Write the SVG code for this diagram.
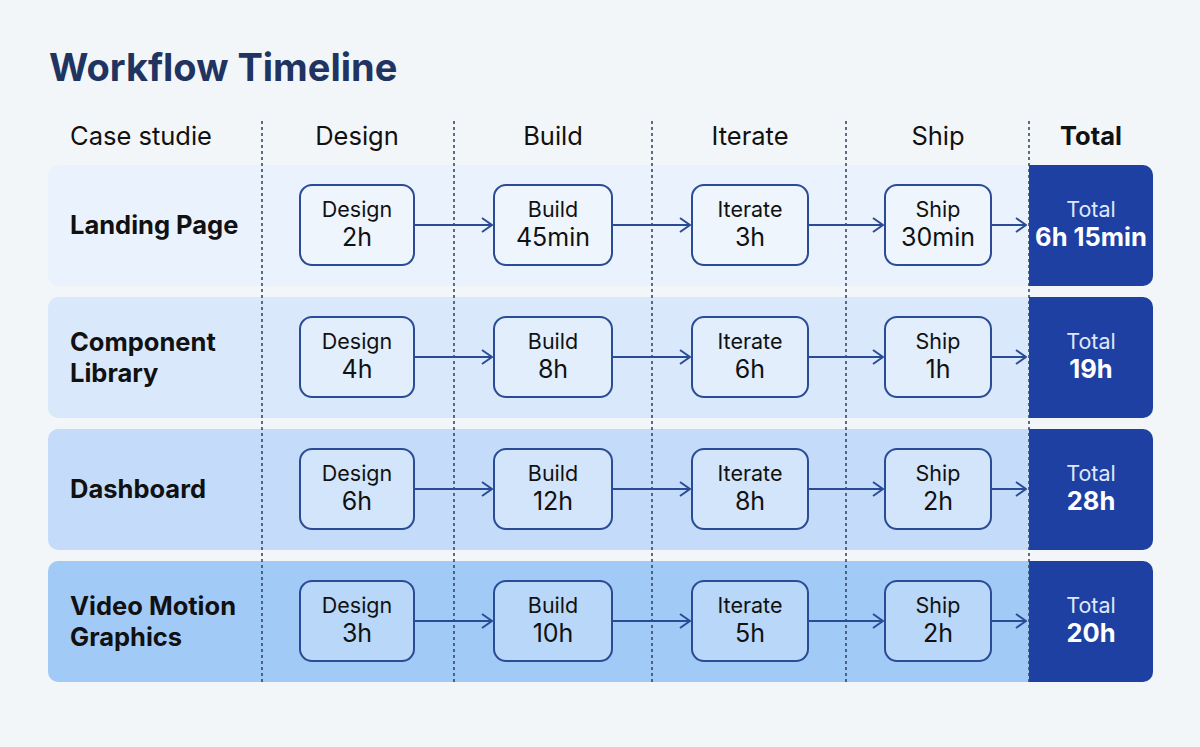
<svg xmlns="http://www.w3.org/2000/svg" width="1200" height="747" viewBox="0 0 1200 747">
<defs>
<style>
.t{font-family:Inter,"Liberation Sans",sans-serif;}
.title{font-size:38px;font-weight:700;fill:#1f3460;}
.hdr{font-size:25.5px;fill:#111;text-anchor:middle;}
.lbl{font-size:25.5px;font-weight:700;fill:#111;}
.n1{font-size:21.5px;fill:#111;text-anchor:middle;}
.n2{font-size:25px;fill:#111;text-anchor:middle;}
.box{fill:#ffffff;fill-opacity:0.25;stroke:#2a4c97;stroke-width:2;}
.tot1{font-size:21.5px;fill:#dfe8fb;text-anchor:middle;}
.tot2{font-size:25.5px;font-weight:700;fill:#fff;text-anchor:middle;}
.div{stroke:#3a4866;stroke-width:1.6;stroke-dasharray:3 3;}
.arr{stroke:#2a4c97;stroke-width:2;fill:none;}
</style>
<marker id="ah" viewBox="0 0 12 16" refX="11" refY="8" markerWidth="12" markerHeight="16" markerUnits="userSpaceOnUse" orient="auto">
<path d="M1,1 L11,8 L1,15" fill="none" stroke="#2a4c97" stroke-width="2"/>
</marker>
</defs>
<rect width="1200" height="747" fill="#f3f6f9"/>
<text class="t title" x="49" y="81">Workflow Timeline</text>

<g id="header">
<text class="t" x="70" y="145" font-size="25.5" fill="#111">Case studie</text>
<text class="t hdr" x="357" y="145">Design</text>
<text class="t hdr" x="553" y="145">Build</text>
<text class="t hdr" x="750" y="145">Iterate</text>
<text class="t hdr" x="938" y="145">Ship</text>
<text class="t hdr" x="1091" y="145" font-weight="700">Total</text>
</g>

<g id="row-backgrounds">
<path d="M58,165 H1029 V286 H58 A10,10 0 0 1 48,276 V175 A10,10 0 0 1 58,165 Z" fill="#eaf2fd"/>
<path d="M58,297 H1029 V418 H58 A10,10 0 0 1 48,408 V307 A10,10 0 0 1 58,297 Z" fill="#d9e8fb"/>
<path d="M58,429 H1029 V550 H58 A10,10 0 0 1 48,540 V439 A10,10 0 0 1 58,429 Z" fill="#c4dcfa"/>
<path d="M58,561 H1029 V682 H58 A10,10 0 0 1 48,672 V571 A10,10 0 0 1 58,561 Z" fill="#a2caf6"/>
</g>

<g id="totals">
<path d="M1029,165 H1143 A10,10 0 0 1 1153,175 V276 A10,10 0 0 1 1143,286 H1029 Z" fill="#1e40a2"/>
<path d="M1029,297 H1143 A10,10 0 0 1 1153,307 V408 A10,10 0 0 1 1143,418 H1029 Z" fill="#1e40a2"/>
<path d="M1029,429 H1143 A10,10 0 0 1 1153,439 V540 A10,10 0 0 1 1143,550 H1029 Z" fill="#1e40a2"/>
<path d="M1029,561 H1143 A10,10 0 0 1 1153,571 V672 A10,10 0 0 1 1143,682 H1029 Z" fill="#1e40a2"/>
<text class="t tot1" x="1091" y="217">Total</text><text class="t tot2" x="1091" y="246">6h 15min</text>
<text class="t tot1" x="1091" y="349">Total</text><text class="t tot2" x="1091" y="378">19h</text>
<text class="t tot1" x="1091" y="481">Total</text><text class="t tot2" x="1091" y="510">28h</text>
<text class="t tot1" x="1091" y="613">Total</text><text class="t tot2" x="1091" y="642">20h</text>
</g>

<g id="dividers">
<line class="div" x1="262" y1="121" x2="262" y2="682"/>
<line class="div" x1="454" y1="121" x2="454" y2="682"/>
<line class="div" x1="652" y1="121" x2="652" y2="682"/>
<line class="div" x1="846" y1="121" x2="846" y2="682"/>
<line class="div" x1="1029" y1="121" x2="1029" y2="682"/>
</g>

<g id="row-labels">
<text class="t lbl" x="70" y="234">Landing Page</text>
<text class="t lbl" x="70" y="351">Component</text>
<text class="t lbl" x="70" y="382">Library</text>
<text class="t lbl" x="70" y="498">Dashboard</text>
<text class="t lbl" x="70" y="615">Video Motion</text>
<text class="t lbl" x="70" y="646">Graphics</text>
</g>

<g id="connectors">
<line class="arr" x1="414" y1="225" x2="492" y2="225" marker-end="url(#ah)"/>
<line class="arr" x1="612" y1="225" x2="690" y2="225" marker-end="url(#ah)"/>
<line class="arr" x1="808" y1="225" x2="883" y2="225" marker-end="url(#ah)"/>
<line class="arr" x1="991" y1="225" x2="1026" y2="225" marker-end="url(#ah)"/>
<line class="arr" x1="414" y1="357" x2="492" y2="357" marker-end="url(#ah)"/>
<line class="arr" x1="612" y1="357" x2="690" y2="357" marker-end="url(#ah)"/>
<line class="arr" x1="808" y1="357" x2="883" y2="357" marker-end="url(#ah)"/>
<line class="arr" x1="991" y1="357" x2="1026" y2="357" marker-end="url(#ah)"/>
<line class="arr" x1="414" y1="489" x2="492" y2="489" marker-end="url(#ah)"/>
<line class="arr" x1="612" y1="489" x2="690" y2="489" marker-end="url(#ah)"/>
<line class="arr" x1="808" y1="489" x2="883" y2="489" marker-end="url(#ah)"/>
<line class="arr" x1="991" y1="489" x2="1026" y2="489" marker-end="url(#ah)"/>
<line class="arr" x1="414" y1="621" x2="492" y2="621" marker-end="url(#ah)"/>
<line class="arr" x1="612" y1="621" x2="690" y2="621" marker-end="url(#ah)"/>
<line class="arr" x1="808" y1="621" x2="883" y2="621" marker-end="url(#ah)"/>
<line class="arr" x1="991" y1="621" x2="1026" y2="621" marker-end="url(#ah)"/>
</g>

<g id="row1-nodes">
<g id="lp-design"><rect class="box" x="300" y="185" width="114" height="80" rx="12"/><text class="t n1" x="357" y="217">Design</text><text class="t n2" x="357" y="246">2h</text></g>
<g id="lp-build"><rect class="box" x="494" y="185" width="118" height="80" rx="12"/><text class="t n1" x="553" y="217">Build</text><text class="t n2" x="553" y="246">45min</text></g>
<g id="lp-iterate"><rect class="box" x="692" y="185" width="116" height="80" rx="12"/><text class="t n1" x="750" y="217">Iterate</text><text class="t n2" x="750" y="246">3h</text></g>
<g id="lp-ship"><rect class="box" x="885" y="185" width="106" height="80" rx="12"/><text class="t n1" x="938" y="217">Ship</text><text class="t n2" x="938" y="246">30min</text></g>
</g>
<g id="row2-nodes">
<g id="cl-design"><rect class="box" x="300" y="317" width="114" height="80" rx="12"/><text class="t n1" x="357" y="349">Design</text><text class="t n2" x="357" y="378">4h</text></g>
<g id="cl-build"><rect class="box" x="494" y="317" width="118" height="80" rx="12"/><text class="t n1" x="553" y="349">Build</text><text class="t n2" x="553" y="378">8h</text></g>
<g id="cl-iterate"><rect class="box" x="692" y="317" width="116" height="80" rx="12"/><text class="t n1" x="750" y="349">Iterate</text><text class="t n2" x="750" y="378">6h</text></g>
<g id="cl-ship"><rect class="box" x="885" y="317" width="106" height="80" rx="12"/><text class="t n1" x="938" y="349">Ship</text><text class="t n2" x="938" y="378">1h</text></g>
</g>
<g id="row3-nodes">
<g id="db-design"><rect class="box" x="300" y="449" width="114" height="80" rx="12"/><text class="t n1" x="357" y="481">Design</text><text class="t n2" x="357" y="510">6h</text></g>
<g id="db-build"><rect class="box" x="494" y="449" width="118" height="80" rx="12"/><text class="t n1" x="553" y="481">Build</text><text class="t n2" x="553" y="510">12h</text></g>
<g id="db-iterate"><rect class="box" x="692" y="449" width="116" height="80" rx="12"/><text class="t n1" x="750" y="481">Iterate</text><text class="t n2" x="750" y="510">8h</text></g>
<g id="db-ship"><rect class="box" x="885" y="449" width="106" height="80" rx="12"/><text class="t n1" x="938" y="481">Ship</text><text class="t n2" x="938" y="510">2h</text></g>
</g>
<g id="row4-nodes">
<g id="vm-design"><rect class="box" x="300" y="581" width="114" height="80" rx="12"/><text class="t n1" x="357" y="613">Design</text><text class="t n2" x="357" y="642">3h</text></g>
<g id="vm-build"><rect class="box" x="494" y="581" width="118" height="80" rx="12"/><text class="t n1" x="553" y="613">Build</text><text class="t n2" x="553" y="642">10h</text></g>
<g id="vm-iterate"><rect class="box" x="692" y="581" width="116" height="80" rx="12"/><text class="t n1" x="750" y="613">Iterate</text><text class="t n2" x="750" y="642">5h</text></g>
<g id="vm-ship"><rect class="box" x="885" y="581" width="106" height="80" rx="12"/><text class="t n1" x="938" y="613">Ship</text><text class="t n2" x="938" y="642">2h</text></g>
</g>
</svg>
